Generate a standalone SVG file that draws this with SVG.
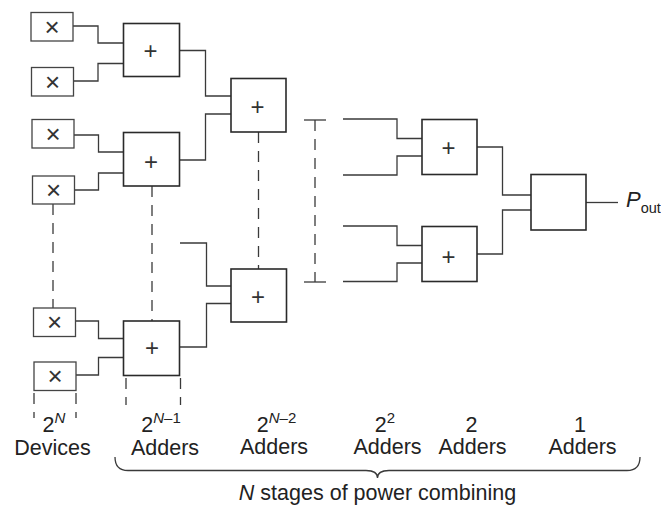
<svg xmlns="http://www.w3.org/2000/svg" width="661" height="506" viewBox="0 0 661 506">
  <style>
    .dev { fill: #fff; stroke: #444; stroke-width: 1.3; }
    .add { fill: #fff; stroke: #2a2a2a; stroke-width: 1.6; }
    .wire { fill: none; stroke: #3a3a3a; stroke-width: 1.3; }
    .dash { fill: none; stroke: #3a3a3a; stroke-width: 1.3; stroke-dasharray: 11 8; }
    .mul { font-family: "Liberation Sans", Arial, sans-serif; font-size: 26px; fill: #333; text-anchor: middle; }
    .sym { font-family: "Liberation Sans", Arial, sans-serif; font-size: 24px; fill: #333; text-anchor: middle; }
    .lbl { font-family: "Liberation Sans", Arial, sans-serif; font-size: 21.5px; fill: #222; text-anchor: middle; }
    .sup { font-size: 15px; }
    .it { font-style: italic; }
  </style>
  <rect width="661" height="506" fill="#fff"/>

  <!-- connectors -->
  <g id="connectors">
    <!-- devices to first-stage adders -->
    <polyline class="wire" points="73,26 98,26 98,43 123.5,43"/>
    <polyline class="wire" points="73.5,81 98,81 98,63.5 123.5,63.5"/>
    <polyline class="wire" points="74,135 98.5,135 98.5,152 123.5,152"/>
    <polyline class="wire" points="74,190 98.5,190 98.5,173 123.5,173"/>
    <polyline class="wire" points="75.5,321 98.5,321 98.5,338.5 123.5,338.5"/>
    <polyline class="wire" points="76,375 98.5,375 98.5,357.5 123.5,357.5"/>
    <!-- first stage to second stage -->
    <polyline class="wire" points="179.5,50.5 205.5,50.5 205.5,96 231,96"/>
    <polyline class="wire" points="179.5,160 205.5,160 205.5,114 231,114"/>
    <polyline class="wire" points="180,243 206.5,243 206.5,286 231,286"/>
    <polyline class="wire" points="179.5,347 206.5,347 206.5,303.5 231,303.5"/>
    <!-- last stages -->
    <polyline class="wire" points="343,119 397,119 397,138.5 422,138.5"/>
    <polyline class="wire" points="343,175 397,175 397,156 422,156"/>
    <polyline class="wire" points="343,226 397,226 397,245.5 422,245.5"/>
    <polyline class="wire" points="343,281.5 397,281.5 397,263 422,263"/>
    <polyline class="wire" points="477,147 502.5,147 502.5,195 531,195"/>
    <polyline class="wire" points="477,254 502.5,254 502.5,210 531,210"/>
    <line class="wire" x1="586" y1="202.5" x2="618" y2="202.5"/>
    <!-- continuation dashes -->
    <line class="dash" x1="53" y1="204" x2="53" y2="308"/>
    <line class="dash" x1="152" y1="186" x2="152" y2="321"/>
    <line class="dash" x1="258.5" y1="132" x2="258.5" y2="269"/>
    <line class="dash" x1="315" y1="120" x2="315" y2="282"/>
    <line class="wire" x1="304" y1="120" x2="326" y2="120"/>
    <line class="wire" x1="304" y1="282" x2="326" y2="282"/>
    <!-- column markers -->
    <line class="dash" x1="34" y1="393" x2="34" y2="418"/>
    <line class="dash" x1="76" y1="393" x2="76" y2="418"/>
    <line class="dash" x1="126" y1="378" x2="126" y2="405"/>
    <line class="dash" x1="180.5" y1="378" x2="180.5" y2="405"/>
    <!-- brace -->
    <path class="wire" d="M115,457 Q115,470.5 128,470.5 L366,470.5 Q377.5,470.5 377.5,478 Q377.5,470.5 389,470.5 L627,470.5 Q640,470.5 640,457"/>
  </g>

  <!-- devices -->
  <g id="dev1"><rect class="dev" x="31" y="12.5" width="42" height="28.5"/><text class="mul" x="52" y="35.7">×</text></g>
  <g id="dev2"><rect class="dev" x="31.5" y="67.5" width="42" height="28.5"/><text class="mul" x="52.5" y="90.7">×</text></g>
  <g id="dev3"><rect class="dev" x="32" y="119.5" width="42" height="28.5"/><text class="mul" x="53" y="142.7">×</text></g>
  <g id="dev4"><rect class="dev" x="32.5" y="176" width="42" height="28"/><text class="mul" x="53.5" y="199">×</text></g>
  <g id="dev5"><rect class="dev" x="33.5" y="308" width="42" height="28.5"/><text class="mul" x="54.5" y="331.2">×</text></g>
  <g id="dev6"><rect class="dev" x="34" y="362" width="42" height="28.5"/><text class="mul" x="55" y="385.2">×</text></g>

  <!-- first-stage adders -->
  <g id="add1"><rect class="add" x="123.5" y="23.5" width="56" height="53"/><text class="sym" x="150.5" y="58.5">+</text></g>
  <g id="add2"><rect class="add" x="123.5" y="132.5" width="56" height="53.5"/><text class="sym" x="151" y="170">+</text></g>
  <g id="add5"><rect class="add" x="123.5" y="321" width="56" height="54.5"/><text class="sym" x="152" y="355.5">+</text></g>

  <!-- second-stage adders -->
  <g id="add3"><rect class="add" x="231" y="78.5" width="55" height="53.5"/><text class="sym" x="257.5" y="114.5">+</text></g>
  <g id="add4"><rect class="add" x="231" y="269" width="55.5" height="53"/><text class="sym" x="258" y="304.5">+</text></g>

  <!-- last stages -->
  <g id="addA"><rect class="add" x="422" y="119.5" width="55" height="55"/><text class="sym" x="448.5" y="156">+</text></g>
  <g id="addB"><rect class="add" x="422" y="226.5" width="55" height="55"/><text class="sym" x="448.5" y="265">+</text></g>
  <g id="addFinal"><rect class="add" x="531" y="174.5" width="55" height="55.5"/></g>

  <!-- output -->
  <g id="pout">
    <text font-family="'Liberation Sans', Arial, sans-serif" font-size="22" fill="#222" x="626" y="207"><tspan font-style="italic">P</tspan><tspan font-size="14.5" dy="6">out</tspan></text>
  </g>

  <!-- labels -->
  <g id="labels">
    <text class="lbl" x="54" y="432">2<tspan class="sup it" dy="-9">N</tspan></text>
    <text class="lbl" x="52.5" y="455">Devices</text>
    <text class="lbl" x="161" y="432">2<tspan class="sup" dy="-9"><tspan class="it">N</tspan>–1</tspan></text>
    <text class="lbl" x="165" y="455">Adders</text>
    <text class="lbl" x="276.5" y="431.5">2<tspan class="sup" dy="-9"><tspan class="it">N</tspan>–2</tspan></text>
    <text class="lbl" x="274" y="453.5">Adders</text>
    <text class="lbl" x="385" y="431.5">2<tspan class="sup" dy="-9">2</tspan></text>
    <text class="lbl" x="387.5" y="453.5">Adders</text>
    <text class="lbl" x="471.5" y="431.5">2</text>
    <text class="lbl" x="472.5" y="453.5">Adders</text>
    <text class="lbl" x="580" y="431.5">1</text>
    <text class="lbl" x="582.5" y="453.5">Adders</text>
    <text class="lbl" x="377.5" y="500"><tspan class="it">N</tspan> stages of power combining</text>
  </g>
</svg>
